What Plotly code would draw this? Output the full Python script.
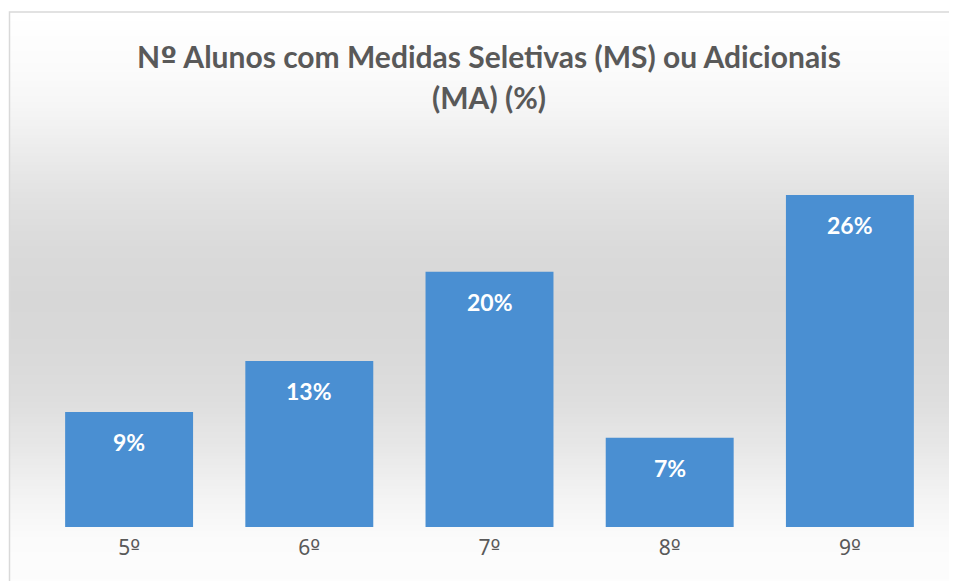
import plotly.graph_objects as go

categories = ["5º", "6º", "7º", "8º", "9º"]
values = [9, 13, 20, 7, 26]
value_labels = ["9%", "13%", "20%", "7%", "26%"]
title_lines = ["Nº Alunos com Medidas Seletivas (MS) ou Adicionais", "(MA) (%)"]

# the page places the figure 8px from the top-left corner of the window
OFF = 8
W, H = 957 - OFF, 581 - OFF
FONT = "Lato"
TICKFONT = "Noto Sans"


def px(xs):  # screen x -> paper x
    return (xs - OFF) / W


def py(ys):  # screen y -> paper y
    return 1 - (ys - OFF) / H


def ordinal_font(s):
    # render the ordinal indicator with a font whose glyph is underlined
    return s.replace("º", "<span style=\"font-family:'DejaVu Sans'\">º</span>")


# background gradient stops (screen row -> gray level)
grad_stops = [(12, 255), (60, 252), (100, 247), (150, 236), (200, 225), (250, 218),
              (300, 215), (350, 217), (400, 222), (450, 232), (500, 244), (540, 251), (590, 253)]


def gray_at(y):
    for (y0, g0), (y1, g1) in zip(grad_stops[:-1], grad_stops[1:]):
        if y0 <= y <= y1:
            t = (y - y0) / (y1 - y0)
            return g0 + (g1 - g0) * t
    return 253


shapes = []
step = 3
y = 12
while y < 590:
    g = int(round(gray_at(y + step / 2)))
    shapes.append(dict(type="rect", xref="paper", yref="paper",
                       x0=px(10), x1=1.02, y0=py(y + step), y1=py(y),
                       fillcolor=f"rgb({g},{g},{g})", line=dict(width=0), layer="below"))
    y += step
# chart border
shapes.append(dict(type="rect", xref="paper", yref="paper",
                   x0=px(9.5), x1=1.05, y0=-0.05, y1=py(12),
                   fillcolor="rgba(0,0,0,0)", line=dict(color="#d9d9d9", width=1.5), layer="below"))

fig = go.Figure()
fig.add_trace(go.Bar(
    x=categories, y=values,
    marker=dict(color="#4a8fd2", line=dict(width=0)),
    width=0.71,
    hoverinfo="skip",
))

annotations = []
for c, v, lab in zip(categories, values, value_labels):
    annotations.append(dict(x=c, y=v, xref="x", yref="y", text=f"<b>{lab}</b>",
                            showarrow=False, yanchor="middle", yshift=-30,
                            font=dict(family=FONT, size=23, color="white")))
annotations.append(dict(x=px(489), y=py(57), xref="paper", yref="paper",
                        text=f"<b>{ordinal_font(title_lines[0])}</b>", showarrow=False,
                        xanchor="center", yanchor="middle",
                        font=dict(family=FONT, size=30, color="#595959")))
annotations.append(dict(x=px(489), y=py(97), xref="paper", yref="paper",
                        text=f"<b>{title_lines[1]}</b>", showarrow=False,
                        xanchor="center", yanchor="middle",
                        font=dict(family=FONT, size=30, color="#595959")))

fig.update_layout(
    width=W, height=H,
    template="none",
    margin=dict(l=0, r=0, t=0, b=0),
    paper_bgcolor="white",
    plot_bgcolor="rgba(0,0,0,0)",
    showlegend=False,
    shapes=shapes,
    annotations=annotations,
    xaxis=dict(domain=[px(39), px(940)], range=[-0.5, 4.5], showgrid=False,
               zeroline=False, showline=False, ticks="", automargin=False,
               ticklabelstandoff=6,
               tickmode="array", tickvals=categories,
               ticktext=[ordinal_font(c) for c in categories],
               tickfont=dict(family=TICKFONT, size=21, color="#595959")),
    yaxis=dict(domain=[py(527), py(144)], range=[0, 30], visible=False,
               automargin=False),
)

fig.write_html("out.html")
